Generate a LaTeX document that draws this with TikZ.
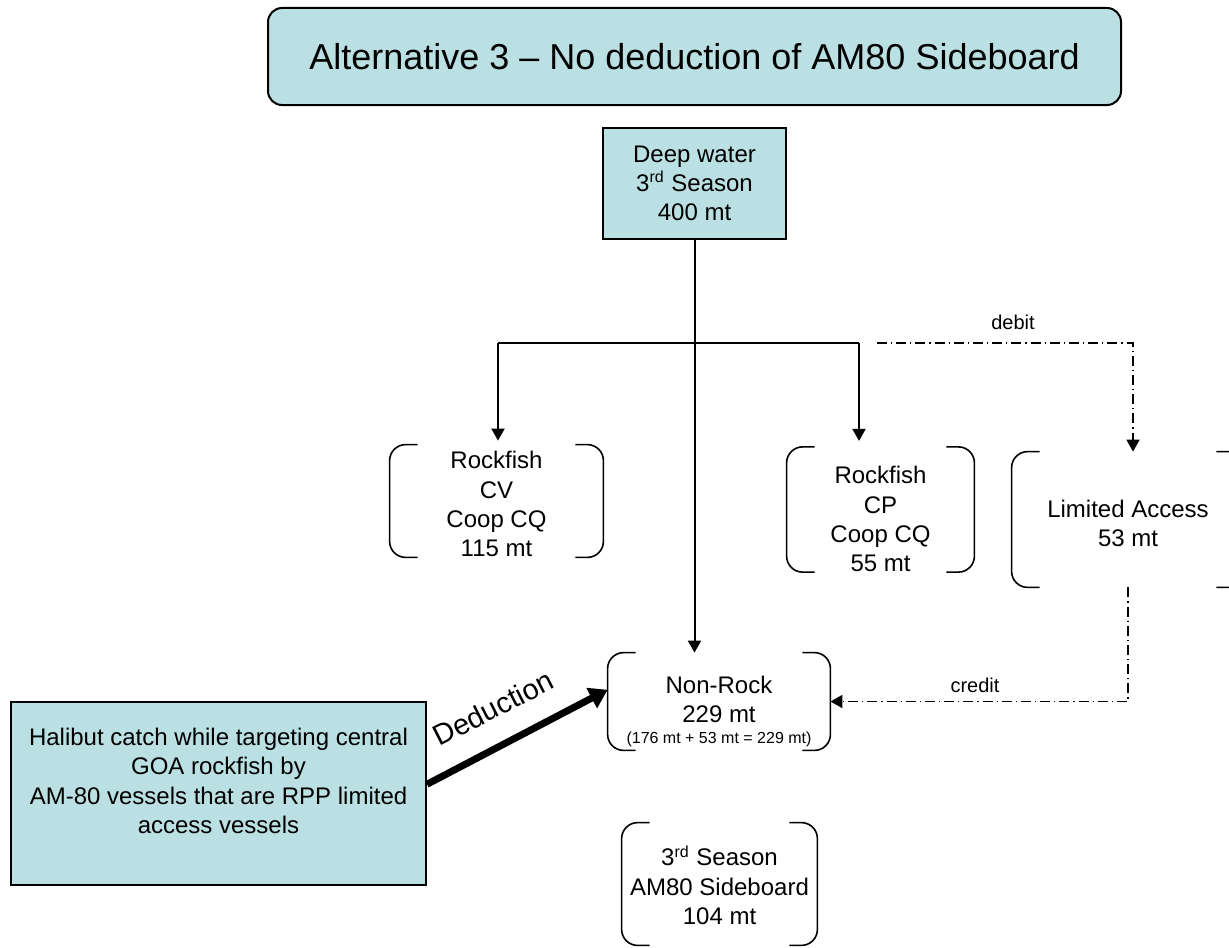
\documentclass[tikz,border=0pt]{standalone}
\usepackage{fontspec}
\setmainfont{Liberation Sans}
\usetikzlibrary{arrows.meta,calc}
\definecolor{boxteal}{RGB}{187,224,227}
% invisible strut that pushes a centred text block down by #1
\newcommand{\pushdown}[1]{\rule{0pt}{\dimexpr 8.8pt+#1*2\relax}}
\tikzset{
  bluebox/.style={draw, line width=1pt, fill=boxteal, inner sep=0pt},
  txt/.style={align=center, font=\fontsize{12pt}{14.6pt}\selectfont, inner sep=0pt},
  arr/.style={-{Triangle[length=6pt,width=6.5pt]}},
  solidline/.style={line width=1pt},
  dashdot/.style={line width=0.8pt, dash pattern=on 5pt off 2pt on 0.6pt off 2pt},
  lbl/.style={font=\fontsize{10pt}{12pt}\selectfont, inner sep=0pt}
}
\begin{document}
\begin{tikzpicture}[x=0.5pt, y=-0.5pt]
\useasboundingbox (0,0) rectangle (1229,947);
% title
\node[bluebox, rounded corners=7pt, minimum width=426.5pt, minimum height=48.5pt, font=\fontsize{18pt}{20pt}\selectfont] (title) at (694.5,56.5) {Alternative 3 \textendash{} No deduction of AM80 Sideboard};
\node[bluebox, txt, minimum width=91.5pt, minimum height=55.5pt] (deep) at (694.5,183.5) {Deep water\\3\textsuperscript{rd} Season\\400 mt};

% bracketed quotas
\node[txt, minimum width=106.5pt, minimum height=56pt] (cv) at (496.5,501) {\pushdown{1.5pt}Rockfish\\CV\\Coop CQ\\115 mt};
\node[txt, minimum width=93.5pt, minimum height=58.5pt] (cp) at (880.5,509.5) {\pushdown{4.75pt}Rockfish\\CP\\Coop CQ\\55 mt};
\node[txt, minimum width=116pt, minimum height=67.5pt] (la) at (1128,519.5) {\pushdown{2pt}Limited Access\\53 mt};
\node[txt, minimum width=111pt, minimum height=48.5pt] (nonrock) at (719,701.5) {\pushdown{5pt}Non-Rock\\229 mt\\[-4pt]{\fontsize{8pt}{9.6pt}\selectfont (176 mt + 53 mt = 229 mt)}};
\node[txt, minimum width=97.5pt, minimum height=61pt] (side) at (719.5,884) {\pushdown{1.2pt}3\textsuperscript{rd} Season\\AM80 Sideboard\\104 mt};
\foreach \n in {cv,cp,la,nonrock,side}{
  \draw[line width=0.8pt, rounded corners=8pt] ([xshift=14pt]\n.north west) -- (\n.north west) -- (\n.south west) -- ([xshift=14pt]\n.south west);
  \draw[line width=0.8pt, rounded corners=8pt] ([xshift=-14pt]\n.north east) -- (\n.north east) -- (\n.south east) -- ([xshift=-14pt]\n.south east);
}

% halibut
\node[bluebox, minimum width=207.5pt, minimum height=91.5pt] (halibut) at (218.5,793.5) {};
\node[txt] (halibuttxt) at (218.5,781) {Halibut catch while targeting central\\GOA rockfish by\\AM-80 vessels that are RPP limited\\access vessels};

% split
\coordinate (jl) at (498,343);
\coordinate (jr) at (859,343);
\draw[solidline] (jl) -- (jr);
\draw[solidline, arr] (jl) -- ([yshift=2pt]jl |- cv.north);
\draw[solidline, arr] (jr) -- ([yshift=3pt]jr |- cp.north);
\draw[solidline, arr] (deep.south) -- (deep.south |- nonrock.north);

% debit and credit
\coordinate (dbs) at (877,343);
\coordinate (db) at (1133,343);
\draw[dashdot, arr] (dbs) -- (db) -- (db |- la.north);
\node[lbl] (debit) at (1013,322) {debit};
\draw[dashdot, arr] (la.south) |- (nonrock.east);
\node[lbl] (credit) at (975,685) {credit};

% deduction
\draw[line width=3.5pt, -{Triangle[length=9pt,width=11pt]}] ($(halibut.north east)!0.45!(halibut.south east)$) -- ($(nonrock.north west)!0.38!(nonrock.south west)$);
\node[font=\fontsize{14.5pt}{17pt}\selectfont, rotate=27, inner sep=0pt] (deduction) at (493,708) {Deduction};
\end{tikzpicture}
\end{document}
